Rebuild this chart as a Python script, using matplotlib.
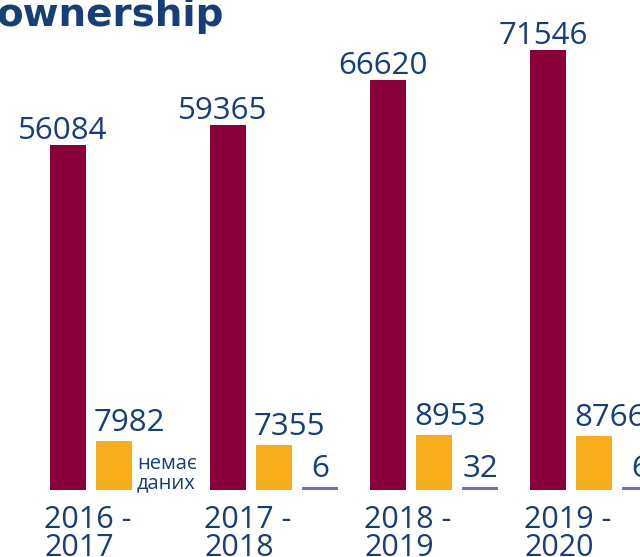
import matplotlib.pyplot as plt

# Data
periods = ["2016 -\n2017", "2017 -\n2018", "2018 -\n2019", "2019 -\n2020"]
total = [56084, 59365, 66620, 71546]
second = [7982, 7355, 8953, 8766]
third = [None, 6, 32, 6]  # None = немає даних

MAROON = "#8A003A"
ORANGE = "#F8AD1D"
PURPLE = "#7A6DB8"
NAVY = "#163E77"

plt.rcParams["font.family"] = ["Open Sans", "DejaVu Sans"]

fig = plt.figure(figsize=(6.4, 5.57), dpi=100)
# axes in pixel-like x units, baseline at 490 px from top
ax = fig.add_axes([0, 67 / 557, 1, 490 / 557])
ax.set_xlim(0, 640)
ax.set_ylim(0, 79600)
ax.axis("off")

x0, pitch, w, gap = 50, 160, 36, 46
px = 162.5     # data units per pixel
min_h = 480    # thin line for tiny values
fs = 22.5

for i, p in enumerate(periods):
    xm = x0 + i * pitch
    xo = xm + gap
    xp = xo + gap

    ax.bar(xm, total[i], width=w, align="edge", color=MAROON)
    ax.text(xm + w / 2 - 5, total[i] + 6 * px, str(total[i]), ha="center", va="baseline",
            fontsize=fs, color=NAVY, clip_on=False)

    ax.bar(xo, second[i], width=w, align="edge", color=ORANGE)
    ax.text(xo - 2, second[i] + 10 * px, str(second[i]), ha="left", va="baseline",
            fontsize=fs, color=NAVY, clip_on=False)

    if third[i] is None:
        ax.text(xp - 5, 16 * px, "немає\nданих", ha="left", va="center", fontsize=14.5,
                color=NAVY, linespacing=0.95)
    else:
        ax.bar(xp, max(third[i], min_h), width=w, align="edge", color=PURPLE)
        ax.text(xp + w / 2, min_h + 10 * px, str(third[i]), ha="center", va="baseline",
                fontsize=fs, color=NAVY, clip_on=False)

    ax.text(xm - 6, -14.5 * px, p, ha="left", va="top", fontsize=22, color=NAVY,
            linespacing=0.95, clip_on=False)

fig.text(-4 / 640, 1 - 26 / 557, "ownership", ha="left", va="baseline",
         fontsize=28, fontweight="bold", color=NAVY, family="DejaVu Sans")

fig.savefig("out.png", dpi=100)
